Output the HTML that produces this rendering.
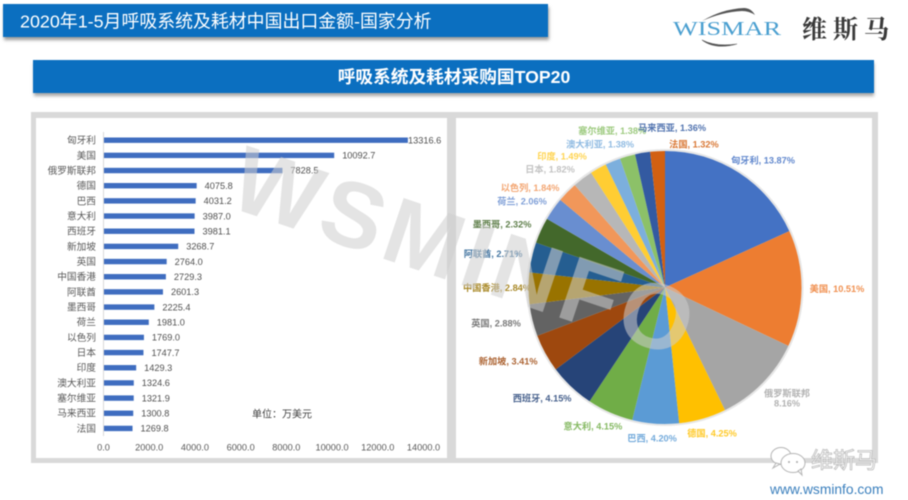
<!DOCTYPE html>
<html lang="zh">
<head>
<meta charset="utf-8">
<title>呼吸系统及耗材采购国TOP20</title>
<style>
html,body{margin:0;padding:0;background:#fff;width:908px;height:500px;overflow:hidden}
svg{display:block;filter:blur(.5px)}
text{font-family:"Liberation Sans","Noto Sans CJK SC",sans-serif}
</style>
</head>
<body>
<svg id="slide" xmlns="http://www.w3.org/2000/svg" width="908" height="500" viewBox="0 0 908 500">
  <defs>
    <filter id="soft" x="-5%" y="-30%" width="110%" height="170%"><feGaussianBlur stdDeviation="1.6"/></filter>
  </defs>
  <rect x="4" y="7" width="545" height="33" fill="#9a9a9a" filter="url(#soft)"/>
  <rect x="3" y="4" width="545" height="33" fill="#0b6fc0"/>
  <text x="20" y="27.5" font-size="17.9" fill="#fff">2020年1-5月呼吸系统及耗材中国出口金额-国家分析</text>

  <g>
    <path d="M702 21 Q722 9 744 8 Q751 8 755 15 Q749 11 742 11 Q722 12 702 21Z" fill="#555"/>
    <path d="M702 40 Q715 50 737 44 Q716 47 702 40Z" fill="#555" stroke="#555" stroke-width=".6"/>
    <text x="673" y="35" font-size="19.5" textLength="108" lengthAdjust="spacingAndGlyphs" fill="#4a9fd0" style="font-family:'Liberation Serif',serif">WISMAR</text>
    <text x="802" y="38" font-size="25" letter-spacing="6" font-weight="700" fill="#3a3a3a" style="font-family:'Noto Serif CJK SC',serif">维斯马</text>
  </g>

  <rect x="34" y="63" width="840" height="33" fill="#a5a5a5" filter="url(#soft)"/>
  <rect x="33" y="60" width="841" height="33" fill="#0b6fc0"/>
  <text x="454" y="83" font-size="17.7" font-weight="700" text-anchor="middle" fill="#fff">呼吸系统及耗材采购国TOP20</text>

  <rect x="31" y="112" width="847" height="351" fill="#d9d9d9"/>
  <rect x="36" y="118" width="411" height="340" fill="#fff"/>
  <rect x="456" y="118" width="416" height="340" fill="#fff"/>

  <g id="bar-chart"></g>
  <g id="pie-chart"></g>

  <text x="282" y="417.5" font-size="10" text-anchor="middle" fill="#404040">单位：万美元</text>

  <text transform="translate(226 206) rotate(18.5)" x="0" y="0" font-size="93" font-weight="700" letter-spacing="5" fill="rgb(205,205,205)" fill-opacity=".55">WSMINFO</text>

  <g fill="#fff" stroke="#b5b5b5" stroke-width="1">
    <ellipse cx="781" cy="456" rx="10" ry="8.5"/>
    <path d="M776 463 L773 468 L780 464Z"/>
    <ellipse cx="793" cy="463" rx="12" ry="9.5"/>
    <path d="M798 471 L802 475 L801 469Z"/>
    <circle cx="789" cy="462" r="1" fill="#aaa" stroke="none"/>
    <circle cx="797" cy="462" r="1" fill="#aaa" stroke="none"/>
  </g>
  <text x="811" y="468" font-size="22" fill="#fff" stroke="#bcbcbc" stroke-width=".8">维斯马</text>
  <text x="770" y="494" font-size="13.8" fill="#3a7fbd">www.wsminfo.com</text>
</svg>

<script>
// Chart data
const barCategories = ["匈牙利","美国","俄罗斯联邦","德国","巴西","意大利","西班牙","新加坡","英国","中国香港","阿联酋","墨西哥","荷兰","以色列","日本","印度","澳大利亚","塞尔维亚","马来西亚","法国"];
const barValues = [13316.6,10092.7,7828.5,4075.8,4031.2,3987.0,3981.1,3268.7,2764.0,2729.3,2601.3,2225.4,1981.0,1769.0,1747.7,1429.3,1324.6,1321.9,1300.8,1269.8];
const axisTicks = [0,2000,4000,6000,8000,10000,12000,14000];
const pieCategories = ["匈牙利","美国","俄罗斯联邦","德国","巴西","意大利","西班牙","新加坡","英国","中国香港","阿联酋","墨西哥","荷兰","以色列","日本","印度","澳大利亚","塞尔维亚","马来西亚","法国"];
const piePercents = [13.87,10.51,8.16,4.25,4.20,4.15,4.15,3.41,2.88,2.84,2.71,2.32,2.06,1.84,1.82,1.49,1.38,1.38,1.36,1.32];
const sliceColors = ["#4472C4","#ED7D31","#A5A5A5","#FFC000","#5B9BD5","#70AD47","#264478","#9E480E","#636363","#997300","#255E91","#43682B","#698ED0","#F1975A","#B7B7B7","#FFCD33","#7CAFDD","#8CC168","#335AA1","#D26012"];

const NS = "http://www.w3.org/2000/svg";
function svgEl(tag, parent) {
  const el = document.createElementNS(NS, tag);
  parent.appendChild(el);
  return el;
}

// ---- Bar chart ----
const barGroup = document.getElementById("bar-chart");
function xScale(v) { return 103.5 + v / 14000 * 320; }
function yBand(i) { return 140.2 + i * 15.17; }

const barAxis = svgEl("line", barGroup);


barAxis.setAttribute("x1", xScale(0));
barAxis.setAttribute("x2", xScale(0));
barAxis.setAttribute("y1", 132);
barAxis.setAttribute("y2", 436);
barAxis.setAttribute("stroke", "#d9d9d9");
barAxis.setAttribute("stroke-width", "1");

barValues.forEach(function (value, i) {
  const y = yBand(i);
  const bar = svgEl("rect", barGroup);
  
  
  bar.setAttribute("x", xScale(0) + 0.5);
  bar.setAttribute("y", y - 2.7);
  bar.setAttribute("width", xScale(value) - xScale(0) - 0.5);
  bar.setAttribute("height", 5.4);
  bar.setAttribute("fill", "#3f6dc0");

  const cat = svgEl("text", barGroup);
  
  
  cat.setAttribute("x", 96);
  cat.setAttribute("y", y + 3.4);
  cat.setAttribute("font-size", "9.7");
  cat.setAttribute("text-anchor", "end");
  cat.setAttribute("fill", "#595959");
  cat.textContent = barCategories[i];

  const lab = svgEl("text", barGroup);
  
  
  lab.setAttribute("x", Math.min(xScale(value) + 8, 408));
  lab.setAttribute("y", y + 3.2);
  lab.setAttribute("font-size", "9.2");
  lab.setAttribute("fill", "#505050");
  lab.textContent = value.toFixed(1);
});

axisTicks.forEach(function (tick) {
  const t = svgEl("text", barGroup);
  
  
  t.setAttribute("x", xScale(tick));
  t.setAttribute("y", 450.3);
  t.setAttribute("font-size", "9.2");
  t.setAttribute("text-anchor", "middle");
  t.setAttribute("fill", "#595959");
  t.textContent = tick.toFixed(1);
});

// ---- Pie chart ----
const pieGroup = document.getElementById("pie-chart");
const pieCx = 665, pieCy = 287.5, pieR = 136.5;
const pieTotal = piePercents.reduce(function (a, b) { return a + b; }, 0);
function angleOf(share) { return share / pieTotal * 2 * Math.PI; }
function polar(angle, r) { return [pieCx + r * Math.sin(angle), pieCy - r * Math.cos(angle)]; }
// Hand-placed label offsets relative to each slice's computed anchor point.
function labelNudge(i) {
  const dx = [8.6,7,4.6,1.5,-1.5,-5.7,-9.6,-12.2,-8.8,-3,-11,-13,-7.9,-16.7,-15.5,-22.3,-1.8,-7.5,34.2,37.9];
  const dy = [11.3,0,-5.3,-13,-14,-12.5,-9.5,-5.7,-4,-0.7,2.8,5.5,8.2,15.5,13.2,12.4,9,2.1,3.2,21.3];
  return [dx[i], dy[i]];
}

const halo = svgEl("circle", pieGroup);


halo.setAttribute("cx", pieCx);
halo.setAttribute("cy", pieCy);
halo.setAttribute("r", pieR + 1);
halo.setAttribute("fill", "none");
halo.setAttribute("stroke", "#e6e6e6");
halo.setAttribute("stroke-width", "2");

let cumulative = 0;
piePercents.forEach(function (pct, i) {
  const a0 = angleOf(cumulative);
  const a1 = angleOf(cumulative + pct);
  cumulative += pct;
  const p0 = polar(a0, pieR);
  const p1 = polar(a1, pieR);
  const large = a1 - a0 > Math.PI ? 1 : 0;
  const slice = svgEl("path", pieGroup);
  
  
  slice.setAttribute("d", "M" + pieCx + " " + pieCy + " L" + p0[0] + " " + p0[1] + " A" + pieR + " " + pieR + " 0 " + large + " 1 " + p1[0] + " " + p1[1] + "Z");
  slice.setAttribute("fill", sliceColors[i]);
});

cumulative = 0;
piePercents.forEach(function (pct, i) {
  const mid = angleOf(cumulative + pct / 2);
  cumulative += pct;
  const anchor = polar(mid, 165);
  const n = labelNudge(i);
  const lx = anchor[0] + n[0];
  const ly = anchor[1] + n[1];
  const label = svgEl("text", pieGroup);
  
  
  label.setAttribute("font-size", "9.2");
  label.setAttribute("text-anchor", "middle");
  label.setAttribute("font-weight", "700");
  label.setAttribute("fill-opacity", "0.85");
  label.setAttribute("fill", sliceColors[i]);
  if (pieCategories[i].length >= 5) {
    const first = svgEl("tspan", label);
    first.setAttribute("x", lx);
    first.setAttribute("y", ly - 1.5);
    first.textContent = pieCategories[i];
    const second = svgEl("tspan", label);
    second.setAttribute("x", lx);
    second.setAttribute("y", ly + 8.5);
    second.textContent = pct.toFixed(2) + "%";
  } else {
    label.setAttribute("x", lx);
    label.setAttribute("y", ly + 3.3);
    label.textContent = pieCategories[i] + ", " + pct.toFixed(2) + "%";
  }
});
</script>
</body>
</html>
